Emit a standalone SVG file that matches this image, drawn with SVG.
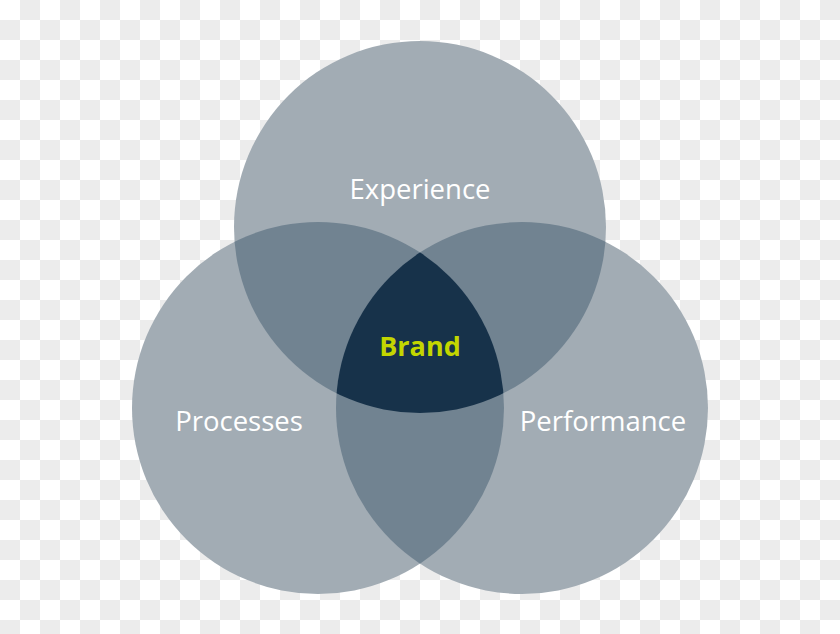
<svg xmlns="http://www.w3.org/2000/svg" width="840" height="634" viewBox="0 0 840 634">
  <defs>
    <pattern id="checker" width="40" height="40" patternUnits="userSpaceOnUse">
      <rect width="40" height="40" fill="#ffffff"/>
      <rect x="20" y="0" width="20" height="20" fill="#ececec"/>
      <rect x="0" y="20" width="20" height="20" fill="#ececec"/>
    </pattern>
    <clipPath id="cTop"><circle cx="420" cy="227" r="186"/></clipPath>
    <clipPath id="cLeft"><circle cx="318" cy="408" r="186"/></clipPath>
    <clipPath id="cRight"><circle cx="522" cy="408" r="186"/></clipPath>
  </defs>
  <style>
    .one { fill: #a2acb4; }
    .two { fill: #718391; }
    .three { fill: #17324a; }
    .lbl { font-family: "Open Sans", "Noto Sans", sans-serif; font-size: 27.5px; fill: #ffffff; text-anchor: middle; }
    .brand { font-family: "Open Sans", "Noto Sans", sans-serif; font-size: 27px; font-weight: bold; fill: #c3d600; text-anchor: middle; }
  </style>
  <rect width="840" height="634" fill="url(#checker)"/>
  <g id="experience">
    <circle class="one" cx="420" cy="227" r="186"/>
  </g>
  <g id="processes">
    <circle class="one" cx="318" cy="408" r="186"/>
  </g>
  <g id="performance">
    <circle class="one" cx="522" cy="408" r="186"/>
  </g>
  <g id="overlaps">
    <g clip-path="url(#cTop)"><circle class="two" cx="318" cy="408" r="186"/><circle class="two" cx="522" cy="408" r="186"/></g>
    <g clip-path="url(#cLeft)"><circle class="two" cx="522" cy="408" r="186"/></g>
  </g>
  <g id="brand">
    <g clip-path="url(#cTop)"><g clip-path="url(#cLeft)"><circle class="three" cx="522" cy="408" r="186"/></g></g>
  </g>
  <g id="labels">
    <text class="lbl" x="420" y="199">Experience</text>
    <text class="lbl" x="239" y="431">Processes</text>
    <text class="lbl" x="603" y="431">Performance</text>
    <text class="brand" x="420" y="356">Brand</text>
  </g>
</svg>
